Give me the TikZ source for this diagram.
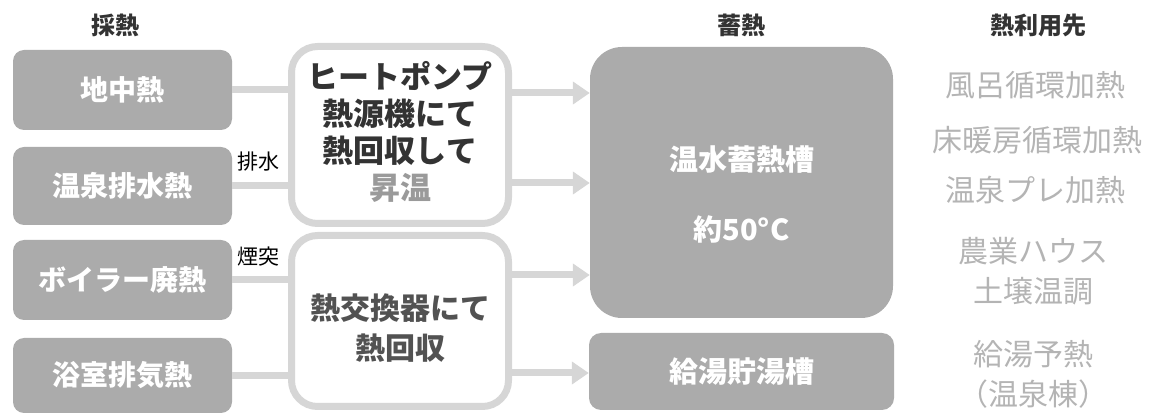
\documentclass[tikz,border=0pt]{standalone}
\usepackage{fontspec}
\newfontfamily\jp{Noto Sans CJK JP}
\usetikzlibrary{arrows.meta}
\definecolor{boxgray}{HTML}{ABABAB}
\definecolor{linegray}{HTML}{D6D6D6}
\definecolor{usegray}{HTML}{B4B4B4}
\definecolor{dimtext}{HTML}{9A9A9A}
\definecolor{darktext}{HTML}{333333}
\tikzset{
  src/.style={fill=boxgray, rounded corners=11pt, minimum width=219pt, inner sep=0pt,
    text=white, font=\jp\bfseries\fontsize{28}{32}\selectfont},
  proc/.style={draw=linegray, line width=7pt, fill=white, rounded corners=26pt,
    minimum width=217pt, inner sep=0pt, align=center, text=darktext},
  tankbox/.style={fill=boxgray, inner sep=0pt, align=center, text=white,
    font=\jp\bfseries\fontsize{29}{34}\selectfont},
  head/.style={font=\jp\bfseries\fontsize{24}{27}\selectfont, text=darktext},
  use/.style={font=\jp\fontsize{30}{40}\selectfont, text=usegray, align=center},
  lab/.style={font=\jp\fontsize{21}{24}\selectfont, text=black},
  conn/.style={draw=linegray, line width=7pt},
  arr/.style={draw=linegray, line width=7pt, -{Triangle[length=17pt,width=22pt]}},
}
\begin{document}
\begin{tikzpicture}[x=1pt, y=-1pt]
\useasboundingbox (0,0) rectangle (1154,419);
% headers
\node[head] (h1) at (115,25) {採熱};
\node[head] (h2) at (741,25) {蓄熱};
\node[head] (h3) at (1038,25) {熱利用先};
% source boxes
\node[src, minimum height=80pt] (b1) at (122.5,90) {地中熱};
\node[src, minimum height=78pt] (b2) at (122.5,186) {温泉排水熱};
\node[src, minimum height=80pt] (b3) at (122.5,280) {ボイラー廃熱};
\node[src, minimum height=75pt] (b4) at (122.5,375.5) {浴室排気熱};
% process boxes
\node[proc, minimum height=177pt] (hp) at (400,135) {};
\node[proc, minimum height=171pt] (hx) at (400,321) {};
\node[font=\jp\bfseries\fontsize{31}{37}\selectfont, text=darktext, align=center] (hpt) at (400,132)
  {ヒートポンプ\\熱源機にて\\熱回収して\\{\color{dimtext}昇温}};
\node[font=\jp\bfseries\fontsize{30}{40}\selectfont, text=darktext!85!white, align=center] (hxt) at (400,328)
  {熱交換器にて\\熱回収};
% storage
\node[tankbox, rounded corners=32pt, minimum width=303pt, minimum height=271pt] (tank) at (741.5,182.5) {};
\node[tankbox] (tankt1) at (741.5,160) {温水蓄熱槽};
\node[tankbox] (tankt2) at (741.5,229) {約50°C};
\node[tankbox, rounded corners=12pt, minimum width=305pt, minimum height=77pt] (hw) at (741.5,371.5) {給湯貯湯槽};
% labels
\node[lab] (l1) at (258,162) {排水};
\node[lab] (l2) at (258,257) {煙突};
% connectors
\draw[conn] (b1.east) -- (b1.east -| hp.west);
\draw[conn] (b2.east) -- (b2.east -| hp.west);
\draw[conn] (b3.east) -- (b3.east -| hx.west);
\draw[conn] (b4.east) -- (b4.east -| hx.west);
\coordinate (y1) at (0,93);
\coordinate (y2) at (0,183);
\coordinate (y3) at (0,275);
\coordinate (y4) at (0,373);
\draw[arr] (hp.east |- y1) -- (tank.west |- y1);
\draw[arr] (hp.east |- y2) -- (tank.west |- y2);
\draw[arr] (hx.east |- y3) -- (tank.west |- y3);
\draw[arr] (hx.east |- y4) -- (hw.west |- y4);
% uses
\node[use] (u1) at (1035,85) {風呂循環加熱};
\node[use] (u2) at (1037,140) {床暖房循環加熱};
\node[use] (u3) at (1035,190) {温泉プレ加熱};
\node[use] (u4) at (1033,271) {農業ハウス\\土壌温調};
\node[use] (u5) at (1033,374) {給湯予熱\\（温泉棟）};
\end{tikzpicture}
\end{document}
